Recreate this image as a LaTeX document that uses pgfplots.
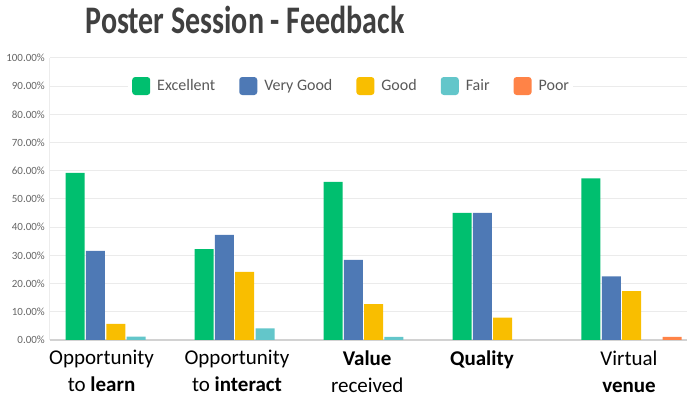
\documentclass[border=0pt]{standalone}
\usepackage{fontspec}
\setmainfont{Carlito}
\usepackage{graphicx}
\usepackage{pgfplots}
\pgfplotsset{compat=1.18}

\definecolor{excellent}{HTML}{00BF6F}
\definecolor{verygood}{HTML}{4E79B5}
\definecolor{good}{HTML}{F9BE00}
\definecolor{fair}{HTML}{63C6CA}
\definecolor{poor}{HTML}{FF8347}
\definecolor{titlegray}{HTML}{404040}
\definecolor{tickgray}{HTML}{666666}
\definecolor{legendgray}{HTML}{595959}
\definecolor{gridgray}{HTML}{EBEBEB}

\begin{document}
\begin{tikzpicture}
\useasboundingbox (-50bp,-63bp) rectangle (650bp,340bp);
\begin{axis}[
  scale only axis, width=637bp, height=282bp,
  ybar=1.3bp, bar width=19bp,
  xmin=-0.51, xmax=4.43, ymin=0, ymax=100,
  axis x line*=bottom, axis y line*=left,
  x axis line style={draw=gray!35, line width=1.2bp, -},
  y axis line style={draw=gray!15, line width=1bp, -},
  ymajorgrids, grid style={draw=gridgray, line width=1bp},
  major tick length=0pt,
  ytick={0,10,...,100},
  yticklabels={0.00\%,10.00\%,20.00\%,30.00\%,40.00\%,50.00\%,60.00\%,70.00\%,80.00\%,90.00\%,100.00\%},
  yticklabel style={font=\fontsize{11bp}{13bp}\selectfont, text=tickgray, anchor=east, inner sep=0pt, xshift=-5bp},
  xtick={-0.11,0.94,1.95,2.84,3.98},
  xticklabels={{Opportunity\\to \textbf{learn}},{Opportunity\\to \textbf{interact}},{\textbf{Value}\\received},{\textbf{Quality}},{Virtual\\\textbf{venue}}},
  xticklabel style={font=\fontsize{21bp}{27bp}\selectfont, align=center, anchor=north, inner sep=0pt, yshift=-10.3bp, text=black},
  legend columns=5,
  legend image code/.code={\fill[#1, rounded corners=3bp] (0bp,-9bp) rectangle (18bp,9bp); \path (25bp,0bp);},
  legend style={draw=none, fill=white, inner sep=4bp,
    at={(0.1225,0.9007)}, anchor=west,
    font=\fontsize{16bp}{18bp}\selectfont, text=legendgray,
    nodes={inner sep=0pt},
    /tikz/every even column/.append style={column sep=24bp}},
]
\addplot[fill=excellent, draw=none] coordinates {(0,59.3) (1,32.2) (2,56.1) (3,45.1) (4,57.3)};
\addplot[fill=verygood, draw=none] coordinates {(0,31.6) (1,37.3) (2,28.4) (3,45.1) (4,22.6)};
\addplot[fill=good, draw=none] coordinates {(0,5.7) (1,24.2) (2,12.7) (3,7.9) (4,17.3)};
\addplot[fill=fair, draw=none] coordinates {(0,1.2) (1,4.1) (2,1.1) (3,0) (4,0)};
\addplot[fill=poor, draw=none] coordinates {(0,0) (1,0) (2,0) (3,0) (4,1.1)};
\legend{Excellent, Very Good, Good, Fair, Poor}
\end{axis}
\node[anchor=base, font=\fontsize{30bp}{36bp}\selectfont\bfseries, text=titlegray, inner sep=0pt]
  at (195bp,306bp) {\scalebox{1}[1.3]{Poster Session - Feedback}};
\end{tikzpicture}
\end{document}
